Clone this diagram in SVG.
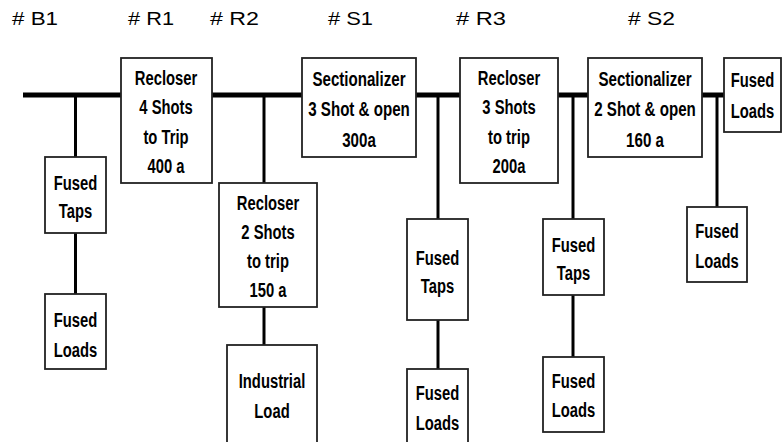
<svg xmlns="http://www.w3.org/2000/svg" width="782" height="442" viewBox="0 0 782 442">
<style>
.box{fill:#fff;stroke:#222;stroke-width:1.8}
.bus{stroke:#000;stroke-width:5;fill:none}
.wire{stroke:#000;stroke-width:3;fill:none}
.lbl{font-family:"Liberation Sans",Arial,sans-serif;font-size:21px;font-weight:bold;text-anchor:middle;fill:#000}
.hdr{font-family:"Liberation Sans",Arial,sans-serif;font-size:17.5px;fill:#000}
</style>
<rect width="782" height="442" fill="#fff"/>
<g id="headers">
<text class="hdr" x="12" y="25" textLength="46" lengthAdjust="spacingAndGlyphs"># B1</text>
<text class="hdr" x="128" y="25" textLength="46" lengthAdjust="spacingAndGlyphs"># R1</text>
<text class="hdr" x="210" y="25" textLength="49" lengthAdjust="spacingAndGlyphs"># R2</text>
<text class="hdr" x="328" y="25" textLength="45" lengthAdjust="spacingAndGlyphs"># S1</text>
<text class="hdr" x="456" y="25" textLength="50" lengthAdjust="spacingAndGlyphs"># R3</text>
<text class="hdr" x="628" y="25" textLength="47" lengthAdjust="spacingAndGlyphs"># S2</text>
</g>
<g id="connectors">
<line class="bus" x1="23" y1="95" x2="724" y2="95"/>
<line class="wire" x1="75.5" y1="95" x2="75.5" y2="157"/>
<line class="wire" x1="75.5" y1="233" x2="75.5" y2="294"/>
<line class="wire" x1="264" y1="95" x2="264" y2="183"/>
<line class="wire" x1="264" y1="307" x2="264" y2="345"/>
<line class="wire" x1="438" y1="95" x2="438" y2="219"/>
<line class="wire" x1="438" y1="320" x2="438" y2="369"/>
<line class="wire" x1="573" y1="95" x2="573" y2="219"/>
<line class="wire" x1="573" y1="295" x2="573" y2="357"/>
<line class="wire" x1="717" y1="95" x2="717" y2="207"/>
</g>
<g id="R1">
<rect class="box" x="121" y="58" width="91" height="125"/>
<g transform="translate(166,0) scale(0.705,1)">
<text class="lbl" x="0" y="85">Recloser</text>
<text class="lbl" x="0" y="114.5">4 Shots</text>
<text class="lbl" x="0" y="144">to Trip</text>
<text class="lbl" x="0" y="173.5">400 a</text>
</g>
</g>
<g id="S1">
<rect class="box" x="302" y="58" width="114" height="99"/>
<g transform="translate(359,0) scale(0.72,1)">
<text class="lbl" x="0" y="86">Sectionalizer</text>
<text class="lbl" x="0" y="116.5">3 Shot &amp; open</text>
<text class="lbl" x="0" y="147">300a</text>
</g>
</g>
<g id="R3">
<rect class="box" x="460" y="58" width="98" height="125"/>
<g transform="translate(509,0) scale(0.705,1)">
<text class="lbl" x="0" y="85">Recloser</text>
<text class="lbl" x="0" y="114.5">3 Shots</text>
<text class="lbl" x="0" y="144">to trip</text>
<text class="lbl" x="0" y="173.5">200a</text>
</g>
</g>
<g id="S2">
<rect class="box" x="588" y="58" width="114" height="99"/>
<g transform="translate(645,0) scale(0.72,1)">
<text class="lbl" x="0" y="86">Sectionalizer</text>
<text class="lbl" x="0" y="116.5">2 Shot &amp; open</text>
<text class="lbl" x="0" y="147">160 a</text>
</g>
</g>
<g id="end-loads">
<rect class="box" x="724" y="58" width="57" height="74"/>
<g transform="translate(752.5,0) scale(0.705,1)">
<text class="lbl" x="0" y="87">Fused</text>
<text class="lbl" x="0" y="118">Loads</text>
</g>
</g>
<g id="B1-taps">
<rect class="box" x="45" y="157" width="61" height="76"/>
<g transform="translate(75.5,0) scale(0.705,1)">
<text class="lbl" x="0" y="190">Fused</text>
<text class="lbl" x="0" y="218">Taps</text>
</g>
</g>
<g id="B1-loads">
<rect class="box" x="45" y="294" width="61" height="75"/>
<g transform="translate(75.5,0) scale(0.705,1)">
<text class="lbl" x="0" y="327">Fused</text>
<text class="lbl" x="0" y="357">Loads</text>
</g>
</g>
<g id="R2">
<rect class="box" x="219" y="183" width="98" height="124"/>
<g transform="translate(268,0) scale(0.705,1)">
<text class="lbl" x="0" y="210">Recloser</text>
<text class="lbl" x="0" y="239">2 Shots</text>
<text class="lbl" x="0" y="268">to trip</text>
<text class="lbl" x="0" y="297">150 a</text>
</g>
</g>
<g id="industrial-load">
<rect class="box" x="227" y="345" width="90" height="110"/>
<g transform="translate(272,0) scale(0.705,1)">
<text class="lbl" x="0" y="388">Industrial</text>
<text class="lbl" x="0" y="418">Load</text>
</g>
</g>
<g id="S1-taps">
<rect class="box" x="407" y="219" width="61" height="101"/>
<g transform="translate(437.5,0) scale(0.705,1)">
<text class="lbl" x="0" y="265">Fused</text>
<text class="lbl" x="0" y="293">Taps</text>
</g>
</g>
<g id="S1-loads">
<rect class="box" x="407" y="369" width="61" height="90"/>
<g transform="translate(437.5,0) scale(0.705,1)">
<text class="lbl" x="0" y="400">Fused</text>
<text class="lbl" x="0" y="430">Loads</text>
</g>
</g>
<g id="R3-taps">
<rect class="box" x="543" y="219" width="61" height="76"/>
<g transform="translate(573.5,0) scale(0.705,1)">
<text class="lbl" x="0" y="252">Fused</text>
<text class="lbl" x="0" y="280">Taps</text>
</g>
</g>
<g id="R3-loads">
<rect class="box" x="543" y="357" width="61" height="75"/>
<g transform="translate(573.5,0) scale(0.705,1)">
<text class="lbl" x="0" y="388">Fused</text>
<text class="lbl" x="0" y="417">Loads</text>
</g>
</g>
<g id="S2-loads">
<rect class="box" x="687" y="207" width="60" height="75"/>
<g transform="translate(717,0) scale(0.705,1)">
<text class="lbl" x="0" y="238">Fused</text>
<text class="lbl" x="0" y="268">Loads</text>
</g>
</g>
</svg>
